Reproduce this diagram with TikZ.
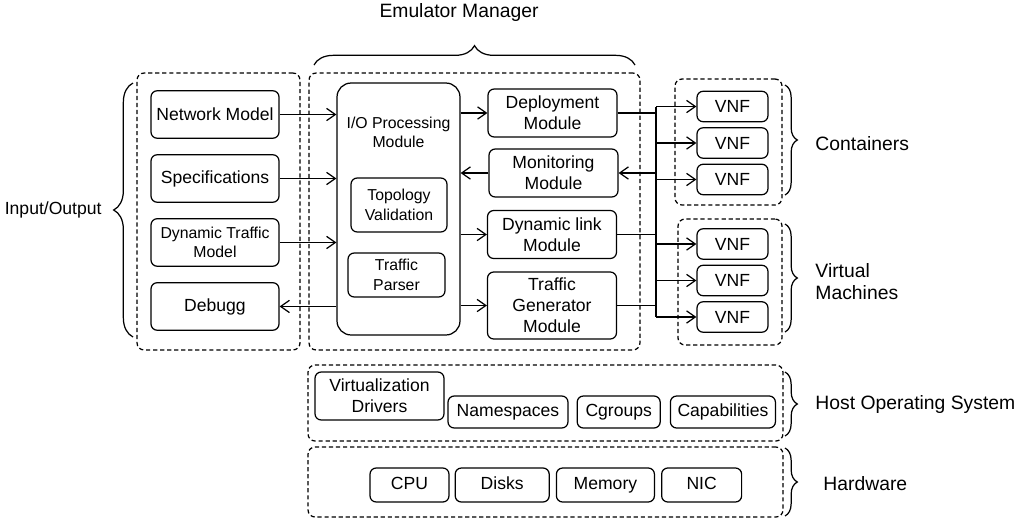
\documentclass[tikz,border=0pt]{standalone}
\usepackage{fontspec}
\setmainfont{Liberation Sans}
\usetikzlibrary{arrows.meta,positioning,decorations.pathreplacing}

\tikzset{
  box/.style={draw, rounded corners=3.5pt, line width=0.7pt, align=center,
    inner sep=1pt, font=\fontsize{10}{12}\selectfont},
  smallbox/.style={box, font=\fontsize{9}{11}\selectfont},
  iobox/.style={box, minimum width=2.56cm, minimum height=0.95cm},
  module/.style={box, minimum width=2.58cm, minimum height=0.96cm},
  vnf/.style={box, minimum width=1.42cm, minimum height=0.61cm},
  osbox/.style={box, minimum height=0.64cm, text height=7.2pt, text depth=2pt},
  hwbox/.style={box, minimum height=0.68cm, text height=7.2pt, text depth=2pt},
  group/.style={draw, dash pattern=on 2.4pt off 1.6pt, rounded corners=4pt,
    line width=0.7pt},
  brc/.style={decorate, decoration={brace, amplitude=11pt}, line width=0.7pt},
  brcr/.style={decorate, decoration={brace, amplitude=7pt}, line width=0.7pt},
  lbl/.style={font=\fontsize{11}{13}\selectfont, align=left},
}

\begin{document}
\begin{tikzpicture}[x=0.02cm, y=-0.02cm, line width=0.7pt,
    >={Straight Barb[length=5pt,width=7pt]}]
  \useasboundingbox (0,0) rectangle (1018,518);

  % dashed groups
  \node[group, minimum width=3.26cm, minimum height=5.54cm] (iogroup)  at (218.5,211.5) {};
  \node[group, minimum width=6.62cm, minimum height=5.54cm] (emugroup) at (474.5,211.5) {};
  \node[group, minimum width=2.14cm, minimum height=2.52cm] (contgroup) at (728.5,142) {};
  \node[group, minimum width=2.08cm, minimum height=2.52cm] (vmgroup)  at (730,282) {};
  \node[group, minimum width=9.5cm, minimum height=1.52cm]  (osgroup)  at (545.5,403) {};
  \node[group, minimum width=9.5cm, minimum height=1.4cm]   (hwgroup)  at (545.5,482) {};

  % input / output
  \begin{scope}[node distance=1.28cm]
    \node[iobox] (netmodel) at (215,114.5) {Network Model};
    \node[iobox, below of=netmodel] (specs) {Specifications};
    \node[iobox, smallbox, below of=specs] (dyntraffic) {Dynamic Traffic\\Model};
    \node[iobox, below of=dyntraffic] (debugg) {Debugg};
  \end{scope}

  % emulator manager
  \node[box, rounded corners=8pt, minimum width=2.46cm, minimum height=5.04cm,
    label={[anchor=center, yshift=-1cm, align=center, font=\fontsize{9}{11}\selectfont]north:I/O Processing\\Module}]
    (ioproc) at (398.5,209) {};
  \node[smallbox, minimum width=1.92cm, minimum height=1.08cm] (topo) at (399,205) {Topology\\Validation};
  \node[smallbox, minimum width=1.94cm, minimum height=0.88cm] (parser) at (396.5,275) {Traffic\\Parser};

  \node[module] (deploy)  at (552.5,113) {Deployment\\Module};
  \node[module] (monitor) at (553.5,173) {Monitoring\\Module};
  \node[module] (dynlink) at (552,234.5) {Dynamic link\\Module};
  \node[module, minimum height=1.34cm] (trafgen) at (552,305.5) {Traffic\\Generator\\Module};

  % vnfs
  \begin{scope}[node distance=0.73cm]
    \node[vnf] (vnfa) at (732.5,106.5) {VNF};
    \node[vnf, below of=vnfa] (vnfb) {VNF};
    \node[vnf, below of=vnfb] (vnfc) {VNF};
    \node[vnf] (vnfd) at (732.5,244) {VNF};
    \node[vnf, below of=vnfd] (vnfe) {VNF};
    \node[vnf, below of=vnfe] (vnff) {VNF};
  \end{scope}
  \coordinate (bus) at (656,113);

  % host os and hardware
  \node[box, minimum width=2.58cm, minimum height=0.96cm] (virtdrv) at (379.5,396) {Virtualization\\Drivers};
  \node[osbox, minimum width=2.4cm] (namespaces) at (508,412) {Namespaces};
  \node[osbox, minimum width=1.66cm, right=0.16cm of namespaces] (cgroups) {Cgroups};
  \node[osbox, minimum width=2.1cm, right=0.18cm of cgroups] (capab) {Capabilities};

  \node[hwbox, minimum width=1.58cm] (cpu) at (409.5,485) {CPU};
  \node[hwbox, minimum width=1.88cm, right=0.1cm of cpu] (disks) {Disks};
  \node[hwbox, minimum width=1.96cm, right=0.12cm of disks] (memory) {Memory};
  \node[hwbox, minimum width=1.6cm, right=0.12cm of memory] (nic) {NIC};

  % connectors
  \draw[->] (netmodel.east) -- (netmodel.east -| ioproc.west);
  \draw[->] (specs.east) -- (specs.east -| ioproc.west);
  \draw[->] (dyntraffic.east) -- (dyntraffic.east -| ioproc.west);
  \draw[->] (debugg.east -| ioproc.west) -- (debugg.east);
  \draw[->] (deploy.west -| ioproc.east) -- (deploy.west);
  \draw[->] (monitor.west) -- (monitor.west -| ioproc.east);
  \draw[->] (dynlink.west -| ioproc.east) -- (dynlink.west);
  \draw[->] (trafgen.west -| ioproc.east) -- (trafgen.west);
  \draw (deploy.east) -- (deploy.east -| bus);
  \draw[->] (monitor.east -| bus) -- (monitor.east);
  \draw (dynlink.east) -- (dynlink.east -| bus);
  \draw (trafgen.east) -- (trafgen.east -| bus);
  \draw (bus |- vnfa.west) -- (bus |- vnff.west);
  \foreach \v in {vnfa,vnfb,vnfc,vnfd,vnfe,vnff}
    \draw[->] (bus |- \v.west) -- (\v.west);

  % braces
  \draw[brc] (314,65) -- (635,65);
  \node[lbl] (emulabel) at (459,12) {Emulator Manager};
  \draw[brc] (133,337) -- (133,83)
    node[midway, left=0.5cm, font=\fontsize{10}{12}\selectfont] (iolabel) {Input/Output};
  \draw[brcr] (785,85) -- (785,195) node[midway, right=0.48cm, yshift=-2pt, lbl] (contlabel) {Containers};
  \draw[brcr] (785,224) -- (785,332) node[midway, right=0.48cm, yshift=-2pt, lbl] (vmlabel) {Virtual\\Machines};
  \draw[brcr] (785,372) -- (785,436) node[midway, right=0.48cm, lbl] (oslabel) {Host Operating System};
  \draw[brcr] (785,448) -- (785,516) node[midway, right=0.64cm, yshift=-1pt, lbl] (hwlabel) {Hardware};
\end{tikzpicture}
\end{document}
